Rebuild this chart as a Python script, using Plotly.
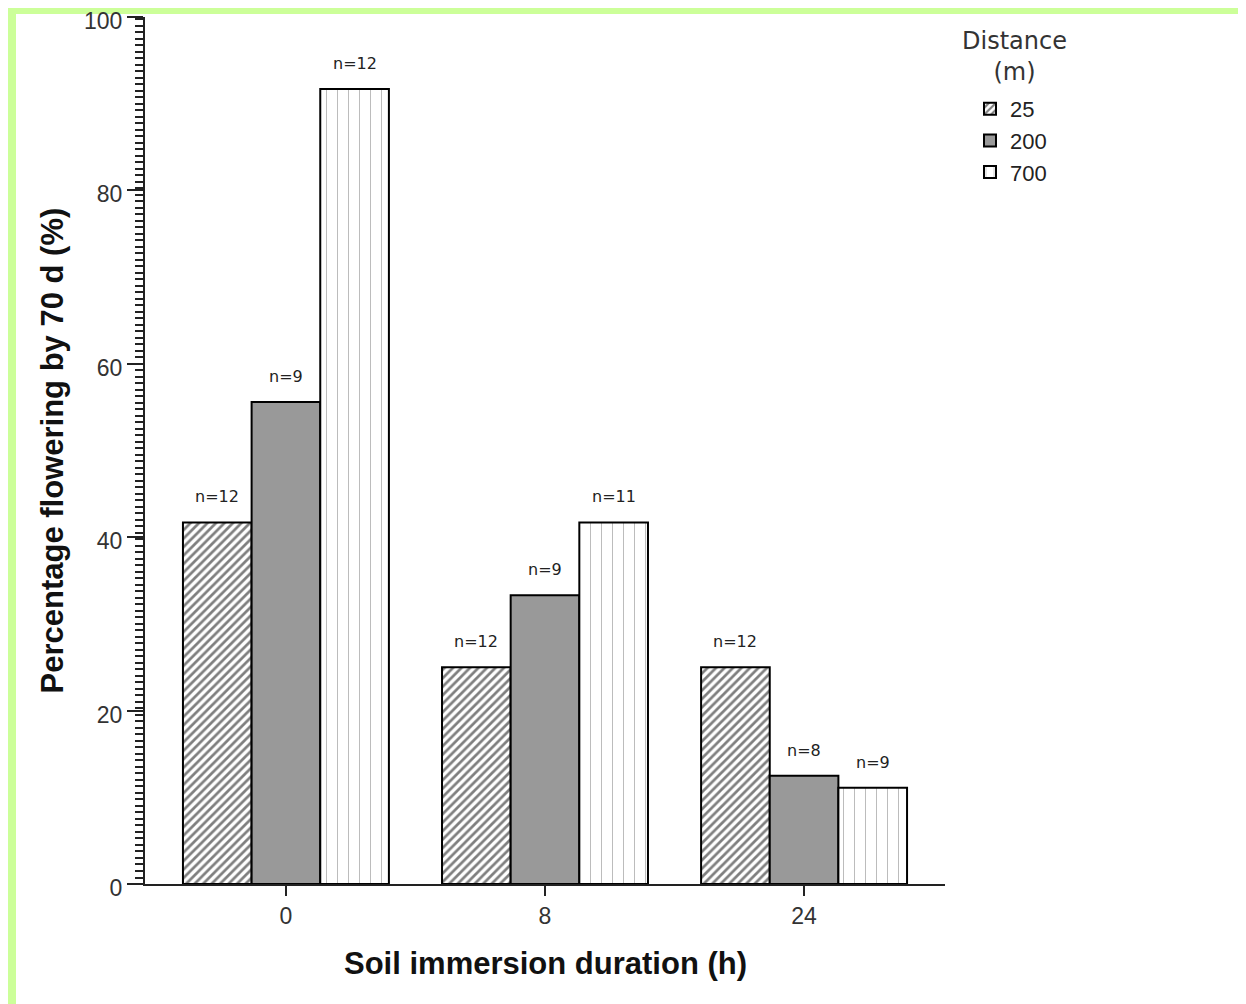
import plotly.graph_objects as go

# ---- data ----
categories = ["0", "8", "24"]
distances = ["25", "200", "700"]
pct_25 = [41.7, 25.0, 25.0]
pct_200 = [55.6, 33.3, 12.5]
pct_700 = [91.7, 41.7, 11.1]
n_25 = [12, 12, 12]
n_200 = [9, 9, 8]
n_700 = [12, 11, 9]

series = [
    (distances[0], pct_25, n_25, dict(fillmode="overlay", bgcolor="white", fgcolor="black", shape="/", size=6, solidity=0.45)),
    (distances[1], pct_200, n_200, None),
    (distances[2], pct_700, n_700, dict(fillmode="overlay", bgcolor="white", fgcolor="#777777", shape="|", size=11, solidity=0.09)),
]
colors = ["white", "#999999", "white"]

# page has an 8px body margin: figure drawn at (8,8) in the window
OFF = 8
W, H = 1246 - OFF, 1004 - OFF
# target plot area in window pixels: x 145..945, y 17..884
L, T = 145 - OFF, 17 - OFF
R, B = W - (945 - OFF), H - (884 - OFF)
bargap = 0.205
nser = len(series)
bw = (1 - bargap) / nser

fig = go.Figure()
annotations = []
for k, (name, vals, ns, pat) in enumerate(series):
    marker = dict(color=colors[k], line=dict(color="black", width=2))
    if pat:
        marker["pattern"] = pat
    fig.add_trace(go.Bar(x=categories, y=vals, name=name, marker=marker))
    off = (k - (nser - 1) / 2) * bw
    for i, (v, n) in enumerate(zip(vals, ns)):
        annotations.append(dict(x=i + off, y=v, xref="x", yref="y", text=f"n={n}",
                                showarrow=False, yanchor="bottom", yshift=14,
                                font=dict(family="DejaVu Sans", size=16, color="#222")))

pw, ph = W - L - R, H - T - B
def px2x(p): return (p - OFF - L) / pw          # window px -> paper x
def py2y(p): return (H - B - (p - OFF)) / ph    # window px -> paper y

# legend title as annotation (centered over swatches)
annotations.append(dict(x=px2x(1015), y=py2y(57), xref="paper", yref="paper",
                        text="Distance<br>(m)", showarrow=False, xanchor="center", yanchor="middle",
                        align="center", font=dict(family="DejaVu Sans", size=24, color="#333")))
# axis titles as annotations
annotations.append(dict(x=px2x(52), y=0.5, xref="paper", yref="paper", textangle=-90,
                        text="<b>Percentage flowering by 70 d (%)</b>", showarrow=False,
                        xanchor="center", yanchor="middle",
                        font=dict(family="Liberation Sans, Arial", size=31, color="#111")))
annotations.append(dict(x=0.5, y=py2y(963), xref="paper", yref="paper",
                        text="<b>Soil immersion duration (h)</b>", showarrow=False,
                        xanchor="center", yanchor="middle",
                        font=dict(family="Liberation Sans, Arial", size=31, color="#111")))

# green frame pieces (drawn at the figure's top/left edges)
shapes = [
    dict(type="rect", xref="paper", yref="paper", x0=px2x(OFF), x1=px2x(OFF + W), y0=py2y(OFF + 6), y1=py2y(OFF),
         fillcolor="#CCFF99", line=dict(width=0), layer="below"),
    dict(type="rect", xref="paper", yref="paper", x0=px2x(OFF), x1=px2x(OFF + 8), y0=py2y(OFF + H), y1=py2y(OFF),
         fillcolor="#CCFF99", line=dict(width=0), layer="below"),
]

fig.update_layout(
    width=W, height=H,
    margin=dict(l=L, r=R, t=T, b=B, autoexpand=False),
    paper_bgcolor="white", plot_bgcolor="white",
    barmode="group", bargap=bargap, bargroupgap=0,
    font=dict(family="Liberation Sans, Arial", color="#222"),
    annotations=annotations, shapes=shapes,
    legend=dict(
        x=px2x(970), y=py2y(88), xanchor="left", yanchor="top",
        font=dict(family="Liberation Sans, Arial", size=22, color="#222"),
        tracegroupgap=0, itemwidth=30,
    ),
    xaxis=dict(
        type="category", range=[-0.544, 2.544], automargin=False,
        showline=True, linecolor="#222", linewidth=2,
        ticks="outside", ticklen=10, tickwidth=2, tickcolor="#222",
        tickfont=dict(size=23, color="#333"),
        showgrid=False,
    ),
    yaxis=dict(
        range=[0, 100], dtick=20, automargin=False, ticklabeloverflow="allow", ticklabelshift=4,
        showline=True, linecolor="#222", linewidth=2,
        ticks="outside", ticklen=16, tickwidth=2, tickcolor="#222",
        tickfont=dict(size=23, color="#333"),
        minor=dict(dtick=0.75, ticks="outside", ticklen=8, tickwidth=1.5, tickcolor="#222", showgrid=False),
        showgrid=False, zeroline=False,
    ),
)

fig.write_html("out.html")
